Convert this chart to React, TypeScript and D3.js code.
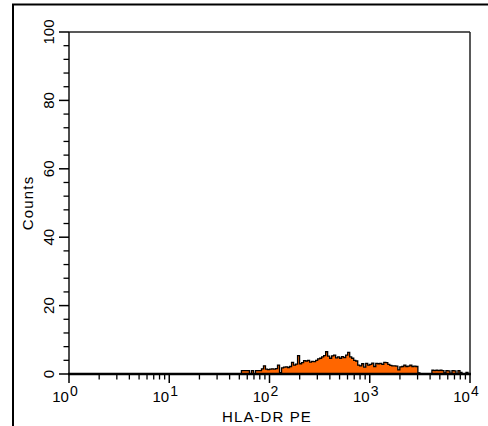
import React from 'react';
import * as d3 from 'd3';

// Histogram bins in log10 space: start exponent and step
const binStartLog = 1.7;
const binStepLog = 0.02;
const counts = [
  0, 1, 1, 1, 1, 0, 1, 0, 1, 1,
  1, 1.5, 2.4, 1.4, 1.3, 1.4, 1.5, 1.4, 1.6, 2.6,
  0.4, 1.8, 2.0, 2.1, 1.9, 2.2, 3.4, 2.6, 2.9, 5.4,
  3.0, 3.3, 3.9, 3.8, 4.0, 3.5, 3.7, 3.6, 4.0, 4.4,
  4.6, 5.0, 5.4, 6.5, 5.2, 4.6, 5.3, 5.5, 4.7, 5.0,
  4.6, 5.1, 4.8, 5.5, 6.3, 5.0, 4.6, 4.0, 3.8, 2.6,
  2.4, 3.0, 2.0, 3.1, 2.6, 2.8, 3.2, 2.2, 3.1, 3.0,
  3.1, 2.8, 3.4, 3.3, 2.8, 2.5, 2.4, 2.4, 2.3, 1.2,
  2.1, 2.2, 2.6, 2.2, 2.3, 2.6, 2.2, 2.3, 2.2, 0.3,
  0, 0, 0, 0, 0, 0, 1.1, 1.0, 1.1, 1.0,
  1.1, 1.0, 0.3, 1.0, 0.9, 0.2, 1.0, 0.9, 0, 1.0,
  0.5, 0, 0, 0.5, 0,
];
const xDecades = [0, 1, 2, 3, 4];
const xMinorMultipliers = [2, 3, 4, 5, 6, 7, 8, 9];
const yMajorTicks = [0, 20, 40, 60, 80, 100];
const yMinorStep = 4;
const xTitle = 'HLA-DR PE';
const yTitle = 'Counts';

export default function App() {
  const W = 488;
  const H = 426;
  const left = 69, right = 470, top = 32, bottom = 374;
  const x = d3.scaleLog().domain([1, 1e4]).range([left, right]);
  const y = d3.scaleLinear().domain([0, 100]).range([bottom, top]);

  const pts = counts.map((c, i) => ({ e: Math.pow(10, binStartLog + i * binStepLog), c }));
  pts.push({ e: Math.pow(10, binStartLog + counts.length * binStepLog), c: 0 });

  const area = d3
    .area<{ e: number; c: number }>()
    .x((d) => x(d.e))
    .y0(y(0))
    .y1((d) => y(d.c))
    .curve(d3.curveStepAfter);
  const line = d3
    .line<{ e: number; c: number }>()
    .x((d) => x(d.e))
    .y((d) => y(d.c))
    .curve(d3.curveStepAfter);

  const xMinor: number[] = [];
  for (let d = 0; d < 4; d++) for (const k of xMinorMultipliers) xMinor.push(k * Math.pow(10, d));
  const yMinor: number[] = [];
  for (let v = 0; v <= 100; v += yMinorStep) if (!yMajorTicks.includes(v)) yMinor.push(v);

  const font = "'Liberation Sans', Arial, Helvetica, sans-serif";

  return (
    <svg
      width={W}
      height={H}
      style={{ position: 'absolute', left: 0, top: 0, background: '#fff' }}
      fontFamily={font}
    >
      <rect x={0} y={0} width={W} height={H} fill="#fff" />
      {/* outer frame (top and left) */}
      <line x1={12} y1={4.5} x2={W} y2={4.5} stroke="#000" strokeWidth={2} />
      <line x1={13} y1={4} x2={13} y2={H} stroke="#000" strokeWidth={2} />

      {/* plot frame */}
      <line x1={left} y1={top} x2={right} y2={top} stroke="#222" strokeWidth={1.5} />
      <line x1={right} y1={top} x2={right} y2={bottom} stroke="#222" strokeWidth={1.5} />
      <line x1={left} y1={top} x2={left} y2={bottom} stroke="#111" strokeWidth={1.5} />

      {/* histogram */}
      <path d={area(pts) || ''} fill="#FF6600" />
      <path d={line(pts) || ''} fill="none" stroke="#000" strokeWidth={1.3} />

      {/* x axis baseline */}
      <line x1={left - 1} y1={bottom} x2={right + 1} y2={bottom} stroke="#000" strokeWidth={2.6} />

      {/* x ticks */}
      {xDecades.map((d) => (
        <line key={'xm' + d} x1={x(Math.pow(10, d))} x2={x(Math.pow(10, d))} y1={bottom} y2={bottom + 9} stroke="#000" strokeWidth={1.5} />
      ))}
      {xMinor.map((v, i) => (
        <line key={'xn' + i} x1={x(v)} x2={x(v)} y1={bottom} y2={bottom + 5.5} stroke="#000" strokeWidth={1.3} />
      ))}
      {xDecades.map((d) => (
        <text key={'xl' + d} x={x(Math.pow(10, d)) - 4} y={402} fontSize={15} textAnchor="middle" fill="#000">
          10
          <tspan fontSize={14} dy={-6} dx={1}>
            {d}
          </tspan>
        </text>
      ))}
      <text x={267} y={421.5} fontSize={15} textAnchor="middle" letterSpacing={1.1} fill="#000">
        {xTitle}
      </text>

      {/* y ticks */}
      {yMajorTicks.map((v) => (
        <line key={'ym' + v} x1={left - 10} x2={left} y1={y(v)} y2={y(v)} stroke="#000" strokeWidth={1.5} />
      ))}
      {yMinor.map((v) => (
        <line key={'yn' + v} x1={left - 5.5} x2={left} y1={y(v)} y2={y(v)} stroke="#000" strokeWidth={1.3} />
      ))}
      {yMajorTicks.map((v) => (
        <text
          key={'yl' + v}
          transform={`translate(53.5,${y(v)}) rotate(-90)`}
          fontSize={15}
          textAnchor="middle"
          fill="#000"
        >
          {v}
        </text>
      ))}
      <text
        transform={`translate(33,${(top + bottom) / 2}) rotate(-90)`}
        fontSize={15}
        textAnchor="middle"
        letterSpacing={1.2}
        fill="#000"
      >
        {yTitle}
      </text>
    </svg>
  );
}
